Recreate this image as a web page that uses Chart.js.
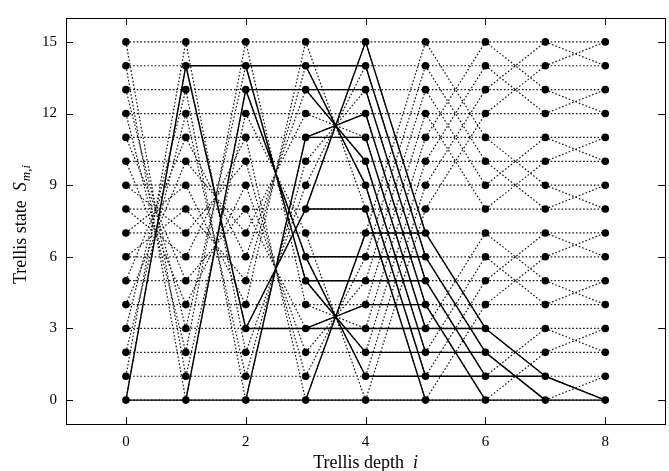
<!DOCTYPE html>
<html><head><meta charset="utf-8">
<script src="https://cdn.jsdelivr.net/npm/chart.js@4.4.1/dist/chart.umd.min.js"></script>
<style>html,body{margin:0;padding:0;background:#fff}#wrap{width:669px;height:471px}</style>
</head><body><div id="wrap"><canvas id="c" width="669" height="471"></canvas></div>
<script>
// ---- data ----
const depths = [0, 1, 2, 3, 4, 5, 6, 7, 8];
const states = [0, 1, 2, 3, 4, 5, 6, 7, 8, 9, 10, 11, 12, 13, 14, 15];
const parityColumns = [14, 13, 11, 7, 8, 4, 2, 1]; // syndrome increment of a "1" bit at depth i -> i+1
const startStates = [0];
const endStates = [0];
const xTickValues = [0, 2, 4, 6, 8];
const yTickValues = [0, 3, 6, 9, 12, 15];
const xTitleParts = ['Trellis depth  ', 'i'];
const yTitleParts = ['Trellis state  ', 'S', 'm,i'];

// ---- build trellis from the data ----
const nSteps = parityColumns.length;
const fwd = [new Set(startStates)];
for (let i = 0; i < nSteps; i++) {
  const nx = new Set();
  fwd[i].forEach(s => { nx.add(s); nx.add(s ^ parityColumns[i]); });
  fwd.push(nx);
}
const bwd = new Array(nSteps + 1);
bwd[nSteps] = new Set(endStates);
for (let i = nSteps - 1; i >= 0; i--) {
  const pv = new Set();
  states.forEach(s => { if (bwd[i + 1].has(s) || bwd[i + 1].has(s ^ parityColumns[i])) pv.add(s); });
  bwd[i] = pv;
}
const dottedData = [];
const solidData = [];
const nodeData = [];
depths.forEach(d => states.forEach(s => nodeData.push({ x: d, y: s })));
states.forEach(s => {
  depths.forEach(d => dottedData.push({ x: d, y: s }));
  dottedData.push({ x: depths[depths.length - 1], y: null });
});
for (let i = 0; i < nSteps; i++) {
  states.forEach(s => {
    const t = s ^ parityColumns[i];
    dottedData.push({ x: depths[i], y: s }, { x: depths[i + 1], y: t }, { x: depths[i + 1], y: null });
    [s, t].forEach(u => {
      if (fwd[i].has(s) && bwd[i].has(s) && fwd[i + 1].has(u) && bwd[i + 1].has(u)) {
        solidData.push({ x: depths[i], y: s }, { x: depths[i + 1], y: u }, { x: depths[i + 1], y: null });
      }
    });
  });
}

const FONT = '"Liberation Serif", "DejaVu Serif", serif';

const framePlugin = {
  id: 'frame',
  afterDraw(chart) {
    const { ctx, chartArea: a, scales } = chart;
    ctx.save();
    ctx.strokeStyle = '#000';
    ctx.lineWidth = 1;
    ctx.strokeRect(Math.round(a.left) + 0.5, Math.round(a.top) + 0.5, Math.round(a.right - a.left), Math.round(a.bottom - a.top));
    const tl = 7;
    ctx.beginPath();
    xTickValues.forEach(v => {
      const px = Math.round(scales.x.getPixelForValue(v)) + 0.5;
      ctx.moveTo(px, a.bottom); ctx.lineTo(px, a.bottom - tl);
      ctx.moveTo(px, a.top); ctx.lineTo(px, a.top + tl);
    });
    yTickValues.forEach(v => {
      const py = Math.round(scales.y.getPixelForValue(v)) + 0.5;
      ctx.moveTo(a.left, py); ctx.lineTo(a.left + tl, py);
      ctx.moveTo(a.right, py); ctx.lineTo(a.right - tl, py);
    });
    ctx.stroke();
    ctx.fillStyle = '#000';
    ctx.textBaseline = 'alphabetic';
    const fN = '18px ' + FONT, fI = 'italic 18px ' + FONT, fS = 'italic 13px ' + FONT;
    ctx.font = fN; const w1 = ctx.measureText(xTitleParts[0]).width;
    ctx.font = fI; const w2 = ctx.measureText(xTitleParts[1]).width;
    let cx = (a.left + a.right) / 2 - (w1 + w2) / 2;
    const by = 468;
    ctx.textAlign = 'left';
    ctx.font = fN; ctx.fillText(xTitleParts[0], cx, by);
    ctx.font = fI; ctx.fillText(xTitleParts[1], cx + w1, by);
    ctx.translate(26, (a.top + a.bottom) / 2 + 4);
    ctx.rotate(-Math.PI / 2);
    ctx.font = fN; const v1 = ctx.measureText(yTitleParts[0]).width;
    ctx.font = fI; const v2 = ctx.measureText(yTitleParts[1]).width;
    ctx.font = fS; const v3 = ctx.measureText(yTitleParts[2]).width;
    let sx = -(v1 + v2 + v3) / 2;
    ctx.font = fN; ctx.fillText(yTitleParts[0], sx, 0);
    ctx.font = fI; ctx.fillText(yTitleParts[1], sx + v1, 0);
    ctx.font = fS; ctx.fillText(yTitleParts[2], sx + v1 + v2 + 1, 4);
    ctx.restore();
  }
};

new Chart(document.getElementById('c'), {
  type: 'scatter',
  data: {
    datasets: [
      { label: 'states', data: nodeData, showLine: false, pointRadius: 3.8, pointHoverRadius: 3.8,
        pointBackgroundColor: '#000', pointBorderColor: '#000', pointBorderWidth: 0, order: 0 },
      { label: 'code trellis', data: solidData, showLine: true, spanGaps: false, borderColor: '#000',
        borderWidth: 1.4, pointRadius: 0, pointHoverRadius: 0, order: 1 },
      { label: 'full trellis', data: dottedData, showLine: true, spanGaps: false, borderColor: '#111',
        borderWidth: 1.2, borderDash: [1.6, 2], pointRadius: 0, pointHoverRadius: 0, order: 2 }
    ]
  },
  options: {
    responsive: false, animation: false, devicePixelRatio: 1,
    layout: { padding: { top: 9, right: 3, left: 0, bottom: 0 } },
    plugins: { legend: { display: false }, tooltip: { enabled: false } },
    scales: {
      x: {
        type: 'linear', min: -1, max: 9,
        afterBuildTicks: s => { s.ticks = xTickValues.map(v => ({ value: v })); },
        afterFit: s => { s.height = 47; },
        grid: { display: false, drawTicks: false },
        border: { display: false },
        ticks: { color: '#000', padding: 9, font: { family: FONT, size: 15 }, maxRotation: 0 }
      },
      y: {
        type: 'linear', min: -1, max: 16,
        afterBuildTicks: s => { s.ticks = yTickValues.map(v => ({ value: v })); },
        afterFit: s => { s.width = 66; },
        grid: { display: false, drawTicks: false },
        border: { display: false },
        ticks: { color: '#000', padding: 9, font: { family: FONT, size: 15 } }
      }
    }
  },
  plugins: [framePlugin]
});
</script></body></html>
